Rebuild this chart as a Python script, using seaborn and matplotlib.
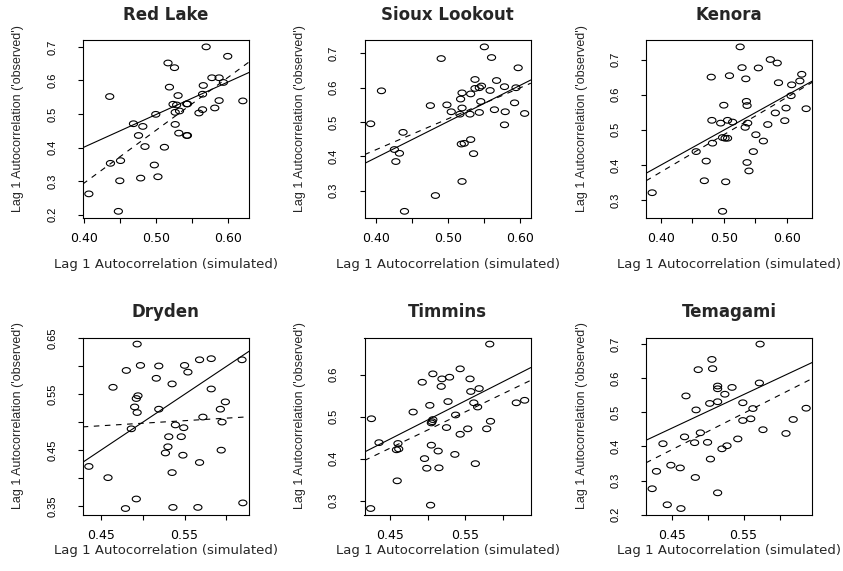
import numpy as np
import pandas as pd
import seaborn as sns
import matplotlib
matplotlib.use("Agg")
import matplotlib.pyplot as plt
from matplotlib.path import Path

# ---- data -----------------------------------------------------------------
stations = ["Red Lake", "Sioux Lookout", "Kenora", "Dryden", "Timmins", "Temagami"]

red_lake_sim = [0.570, 0.600, 0.517, 0.526, 0.578, 0.588, 0.594, 0.566, 0.519, 0.436,
                0.531, 0.565, 0.588, 0.621, 0.524, 0.529, 0.543, 0.544, 0.582, 0.565,
                0.533, 0.527, 0.560, 0.500, 0.469, 0.527, 0.482, 0.476, 0.532, 0.543,
                0.544, 0.485, 0.512, 0.437, 0.451, 0.498, 0.450, 0.479, 0.503, 0.407,
                0.448]
red_lake_obs = [0.700, 0.672, 0.652, 0.638, 0.608, 0.608, 0.594, 0.585, 0.580, 0.552,
                0.555, 0.559, 0.540, 0.539, 0.529, 0.527, 0.530, 0.530, 0.518, 0.513,
                0.509, 0.505, 0.503, 0.499, 0.471, 0.469, 0.463, 0.436, 0.443, 0.436,
                0.436, 0.403, 0.401, 0.353, 0.361, 0.348, 0.301, 0.309, 0.313, 0.262,
                0.210]

sioux_sim = [0.550, 0.560, 0.490, 0.597, 0.407, 0.537, 0.567, 0.537, 0.543, 0.546,
             0.558, 0.578, 0.594, 0.519, 0.531, 0.517, 0.475, 0.498, 0.519, 0.545,
             0.564, 0.592, 0.579, 0.504, 0.516, 0.530, 0.543, 0.606, 0.392, 0.578,
             0.437, 0.531, 0.518, 0.522, 0.425, 0.432, 0.535, 0.427, 0.519, 0.482,
             0.439]
sioux_obs = [0.719, 0.688, 0.685, 0.658, 0.591, 0.624, 0.621, 0.598, 0.600, 0.605,
             0.592, 0.603, 0.600, 0.585, 0.582, 0.567, 0.548, 0.550, 0.541, 0.560,
             0.536, 0.556, 0.530, 0.530, 0.523, 0.523, 0.528, 0.525, 0.495, 0.492,
             0.470, 0.449, 0.436, 0.438, 0.420, 0.409, 0.408, 0.385, 0.327, 0.286,
             0.240]

kenora_sim = [0.526, 0.574, 0.585, 0.529, 0.555, 0.480, 0.509, 0.535, 0.587, 0.624,
              0.621, 0.608, 0.607, 0.536, 0.537, 0.500, 0.599, 0.631, 0.582, 0.481,
              0.506, 0.514, 0.495, 0.538, 0.597, 0.570, 0.534, 0.551, 0.498, 0.502,
              0.506, 0.482, 0.563, 0.456, 0.547, 0.472, 0.537, 0.540, 0.469, 0.503,
              0.386, 0.498]
kenora_obs = [0.736, 0.700, 0.690, 0.677, 0.676, 0.650, 0.654, 0.645, 0.634, 0.658,
              0.639, 0.628, 0.597, 0.581, 0.569, 0.570, 0.562, 0.560, 0.548, 0.527,
              0.527, 0.522, 0.519, 0.519, 0.526, 0.515, 0.507, 0.486, 0.478, 0.476,
              0.476, 0.462, 0.468, 0.438, 0.438, 0.411, 0.407, 0.383, 0.355, 0.352,
              0.321, 0.268]

dryden_sim = [0.493, 0.480, 0.497, 0.519, 0.516, 0.550, 0.554, 0.568, 0.582, 0.619,
              0.535, 0.464, 0.494, 0.492, 0.582, 0.599, 0.593, 0.490, 0.493, 0.519,
              0.572, 0.595, 0.486, 0.539, 0.549, 0.531, 0.546, 0.530, 0.527, 0.548,
              0.594, 0.568, 0.435, 0.535, 0.458, 0.492, 0.479, 0.536, 0.566, 0.620]
dryden_obs = [0.639, 0.592, 0.601, 0.600, 0.578, 0.601, 0.589, 0.611, 0.613, 0.611,
              0.568, 0.562, 0.547, 0.542, 0.559, 0.536, 0.523, 0.527, 0.517, 0.523,
              0.509, 0.500, 0.488, 0.495, 0.490, 0.474, 0.474, 0.456, 0.445, 0.441,
              0.450, 0.428, 0.421, 0.410, 0.401, 0.363, 0.346, 0.348, 0.348, 0.356]

timmins_sim = [0.582, 0.543, 0.507, 0.529, 0.519, 0.556, 0.493, 0.518, 0.568, 0.557,
               0.527, 0.561, 0.566, 0.617, 0.628, 0.481, 0.503, 0.426, 0.537, 0.507,
               0.506, 0.505, 0.583, 0.525, 0.553, 0.578, 0.543, 0.436, 0.461, 0.459,
               0.462, 0.505, 0.514, 0.496, 0.536, 0.563, 0.499, 0.515, 0.460, 0.504,
               0.425]
timmins_obs = [0.673, 0.614, 0.602, 0.594, 0.590, 0.590, 0.582, 0.572, 0.567, 0.560,
               0.536, 0.533, 0.523, 0.533, 0.539, 0.511, 0.527, 0.495, 0.504, 0.493,
               0.488, 0.485, 0.489, 0.474, 0.471, 0.471, 0.458, 0.438, 0.436, 0.421,
               0.423, 0.432, 0.418, 0.400, 0.410, 0.388, 0.377, 0.378, 0.347, 0.289,
               0.281]

temagami_sim = [0.573, 0.506, 0.507, 0.487, 0.572, 0.514, 0.514, 0.534, 0.524, 0.470,
                0.514, 0.503, 0.549, 0.484, 0.563, 0.637, 0.560, 0.549, 0.619, 0.577,
                0.490, 0.609, 0.468, 0.542, 0.500, 0.482, 0.438, 0.527, 0.520, 0.504,
                0.449, 0.462, 0.429, 0.483, 0.423, 0.514, 0.444, 0.463]
temagami_obs = [0.700, 0.655, 0.628, 0.625, 0.586, 0.577, 0.569, 0.573, 0.553, 0.548,
                0.531, 0.526, 0.528, 0.507, 0.511, 0.512, 0.481, 0.476, 0.479, 0.449,
                0.440, 0.438, 0.428, 0.422, 0.412, 0.411, 0.408, 0.402, 0.393, 0.363,
                0.345, 0.337, 0.327, 0.309, 0.276, 0.264, 0.229, 0.218]

sim_values = [red_lake_sim, sioux_sim, kenora_sim, dryden_sim, timmins_sim, temagami_sim]
obs_values = [red_lake_obs, sioux_obs, kenora_obs, dryden_obs, timmins_obs, temagami_obs]

# fitted line (solid) and reference line (dashed): intercept, slope
solid_intercept = [0.013, -0.024, 0.003, 0.005, 0.033, 0.009]
solid_slope = [0.970, 1.052, 0.992, 0.990, 0.918, 0.987]
dashed_intercept = [-0.336, 0.060, -0.044, 0.453, 0.032, -0.091]
dashed_slope = [1.574, 0.900, 1.060, 0.090, 0.872, 1.069]

# axis ticks and the labels printed on them
x_ticks = [[0.40, 0.45, 0.50, 0.55, 0.60]] * 3 + [[0.45, 0.50, 0.55, 0.60]] * 3
x_tick_labels = [["0.40", "", "0.50", "", "0.60"]] * 3 + [["0.45", "", "0.55", ""]] * 3
y_ticks = [
    [0.2, 0.3, 0.4, 0.5, 0.6, 0.7],
    [0.3, 0.4, 0.5, 0.6, 0.7],
    [0.3, 0.4, 0.5, 0.6, 0.7],
    [0.35, 0.40, 0.45, 0.50, 0.55, 0.60, 0.65],
    [0.3, 0.4, 0.5, 0.6],
    [0.2, 0.3, 0.4, 0.5, 0.6, 0.7],
]
y_tick_labels = [
    ["0.2", "0.3", "0.4", "0.5", "0.6", "0.7"],
    ["0.3", "0.4", "0.5", "0.6", "0.7"],
    ["0.3", "0.4", "0.5", "0.6", "0.7"],
    ["0.35", "", "0.45", "", "0.55", "", "0.65"],
    ["0.3", "0.4", "0.5", "0.6"],
    ["0.2", "0.3", "0.4", "0.5", "0.6", "0.7"],
]

x_title = "Lag 1 Autocorrelation (simulated)"
y_title = "Lag 1 Autocorrelation ('observed')"

# ---- style ----------------------------------------------------------------
sns.set_style("ticks")
plt.rcParams["font.family"] = ["DejaVu Sans"]
plt.rcParams["axes.linewidth"] = 0.8
plt.rcParams["xtick.major.width"] = 0.8
plt.rcParams["ytick.major.width"] = 0.8
plt.rcParams["xtick.major.size"] = 3.8
plt.rcParams["ytick.major.size"] = 3.8
plt.rcParams["xtick.color"] = "black"
plt.rcParams["ytick.color"] = "black"
plt.rcParams["axes.edgecolor"] = "black"

# open, slightly flattened circle marker
theta = np.linspace(0, 2 * np.pi, 60)
ellipse = Path(np.column_stack([np.cos(theta), 0.70 * np.sin(theta)]), closed=True)

W, H = 843, 571
fig = plt.figure(figsize=(W / 100, H / 100), dpi=100)

col_left = [82.7, 364.5, 646.0]
row_top = [40.3, 337.5]
box_w, box_h = 166.3, 177.6
xlabel_gap = [47, 35]


def r_limits(vals):
    lo, hi = min(vals), max(vals)
    pad = 0.04 * (hi - lo)
    return lo - pad, hi + pad


for i, name in enumerate(stations):
    r, c = divmod(i, 3)
    left = col_left[c] / W
    bottom = 1 - (row_top[r] + box_h) / H
    ax = fig.add_axes([left, bottom, box_w / W, box_h / H])

    df = pd.DataFrame({"simulated": sim_values[i], "observed": obs_values[i]})
    sns.scatterplot(data=df, x="simulated", y="observed", ax=ax,
                    marker=ellipse, s=34, facecolor="none", edgecolor="black",
                    linewidth=0.8, legend=False)

    ax.axline((0, solid_intercept[i]), slope=solid_slope[i],
              color="black", lw=0.8, ls="-")
    ax.axline((0, dashed_intercept[i]), slope=dashed_slope[i],
              color="black", lw=0.8, ls=(0, (5, 5)))

    ax.set_xlim(*r_limits(sim_values[i]))
    ax.set_ylim(*r_limits(obs_values[i]))

    ax.set_xticks(x_ticks[i])
    ax.set_xticklabels(x_tick_labels[i], fontsize=9, family="DejaVu Sans")
    ax.set_yticks(y_ticks[i])
    ax.set_yticklabels(y_tick_labels[i], fontsize=8, family="Liberation Sans",
                       rotation=90, va="center")
    ax.tick_params(axis="x", pad=6.5)
    ax.tick_params(axis="y", pad=14.5)
    for sp in ax.spines.values():
        sp.set_visible(True)
        sp.set_color("black")
        sp.set_linewidth(0.8)

    ax.set_title(name, fontsize=12, fontweight="bold", pad=14.5,
                 family="DejaVu Sans")
    ax.set_xlabel(x_title, fontsize=9.5, family="DejaVu Sans")
    ax.xaxis.set_label_coords(0.5, -xlabel_gap[r] / box_h)
    ax.xaxis.label.set_va("center")
    ax.set_ylabel(y_title, fontsize=9, family="Liberation Sans")
    ax.yaxis.set_label_coords(-64.5 / box_w, 0.56)
    ax.yaxis.label.set_va("center")

fig.savefig("out.png", dpi=100, facecolor="white")
